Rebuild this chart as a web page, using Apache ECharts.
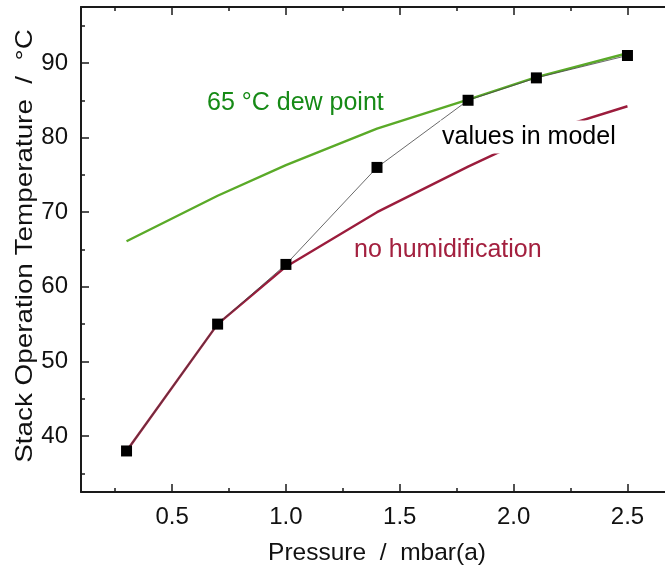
<!DOCTYPE html>
<html>
<head>
<meta charset="utf-8">
<script src="https://cdn.jsdelivr.net/npm/echarts@6/dist/echarts.min.js"></script>
<style>
  html, body { margin: 0; padding: 0; background: #fff; }
  #chart { width: 665px; height: 572px; }
</style>
</head>
<body>
<div id="chart"></div>
<script>
// values
const pressure = [0.3, 0.7, 1.0, 1.4, 1.8, 2.1, 2.5]
const modelTemp = [38, 55, 63, 76, 85, 88, 91]
const dewPointTemp = [66.1, 72.2, 76.3, 81.2, 85.1, 88.1, 91.3]
const noHumTemp = [38, 55, 62.7, 70, 76.1, 80.4, 84.2]

const xMajor = [0.5, 1.0, 1.5, 2.0, 2.5]
const xMinor = [0.25, 0.75, 1.25, 1.75, 2.25]
const yMajor = [40, 50, 60, 70, 80, 90]
const yMinor = [35, 45, 55, 65, 75, 85, 95]

const FONT = '"Liberation Sans", Arial, sans-serif'
const AXIS_COLOR = '#1a1a1a'

const pairs = (ys) => pressure.map((x, i) => [x, ys[i]])

// one axis per tick set, so major / minor ticks can have their own length
function xAxisOf (position, ticks, len, opts) {
  return Object.assign({
    type: 'value',
    position: position,
    min: 0.1,
    max: 2.7,
    axisLine: { show: false },
    axisTick: { show: true, inside: true, length: len, customValues: ticks, lineStyle: { color: AXIS_COLOR, width: 1.5 } },
    axisLabel: { show: false },
    splitLine: { show: false }
  }, opts || {})
}
function yAxisOf (position, ticks, len, opts) {
  return Object.assign({
    type: 'value',
    position: position,
    min: 32.5,
    max: 97.5,
    axisLine: { show: false },
    axisTick: { show: true, inside: true, length: len, customValues: ticks, lineStyle: { color: AXIS_COLOR, width: 1.5 } },
    axisLabel: { show: false },
    splitLine: { show: false }
  }, opts || {})
}

const option = {
  animation: false,
  backgroundColor: '#fff',
  textStyle: { fontFamily: FONT },
  grid: { left: 81, top: 7, right: -8, bottom: 80, containLabel: false, outerBoundsMode: 'none' },
  xAxis: [
    xAxisOf('bottom', xMajor, 8, {
      axisLine: { show: true, lineStyle: { color: AXIS_COLOR, width: 2 } },
      axisLabel: {
        show: true, customValues: xMajor, margin: 13,
        color: '#111', fontSize: 24, fontFamily: FONT,
        formatter: v => v.toFixed(1)
      },
      name: 'Pressure  /  mbar(a)',
      nameLocation: 'middle',
      nameGap: 49,
      nameTextStyle: { color: '#111', fontSize: 24.5, fontFamily: FONT }
    }),
    xAxisOf('bottom', xMinor, 4),
    xAxisOf('top', xMajor, 8, { axisLine: { show: true, lineStyle: { color: AXIS_COLOR, width: 2 } } }),
    xAxisOf('top', xMinor, 4)
  ],
  yAxis: [
    yAxisOf('left', yMajor, 8, {
      axisLine: { show: true, lineStyle: { color: AXIS_COLOR, width: 2 } },
      axisLabel: {
        show: true, customValues: yMajor, margin: 13,
        color: '#111', fontSize: 24, fontFamily: FONT
      }
    }),
    yAxisOf('left', yMinor, 4),
    yAxisOf('right', yMajor, 8, { axisLine: { show: true, lineStyle: { color: AXIS_COLOR, width: 2 } } }),
    yAxisOf('right', yMinor, 4)
  ],
  series: [
    {
      name: 'no humidification',
      type: 'line',
      data: pairs(noHumTemp),
      symbol: 'none',
      lineStyle: { color: '#9b1c3c', width: 2.4 },
      z: 2
    },
    {
      name: '65 °C dew point',
      type: 'line',
      data: pairs(dewPointTemp),
      symbol: 'none',
      lineStyle: { color: '#5aaa28', width: 2.4 },
      z: 3
    },
    {
      name: 'values in model',
      type: 'line',
      data: pairs(modelTemp),
      symbol: 'rect',
      symbolSize: 11,
      showAllSymbol: true,
      itemStyle: { color: '#000' },
      lineStyle: { color: '#444', width: 0.8 },
      z: 4
    }
  ],
  graphic: [
    {
      // y axis title, drawn a little stretched along its length like the original
      type: 'text', x: 25, y: 246, rotation: Math.PI / 2, scaleX: 1.16, z: 100,
      style: {
        text: 'Stack Operation Temperature  /  °C', fill: '#111', font: '24px ' + FONT,
        align: 'center', verticalAlign: 'middle'
      }
    },
    {
      type: 'text', x: 207, y: 103, z: 100,
      style: { text: '65 °C dew point', fill: '#168a16', font: '25px ' + FONT, verticalAlign: 'middle' }
    },
    {
      type: 'text', x: 440, y: 137, z: 100,
      style: {
        text: 'values in model', fill: '#000', font: '25px ' + FONT, verticalAlign: 'middle',
        backgroundColor: '#fff', padding: [4, 2, 4, 2]
      }
    },
    {
      type: 'text', x: 354, y: 250, z: 100,
      style: { text: 'no humidification', fill: '#a3203f', font: '25px ' + FONT, verticalAlign: 'middle' }
    }
  ]
}

const chart = echarts.init(document.getElementById('chart'))
chart.setOption(option)
</script>
</body>
</html>
